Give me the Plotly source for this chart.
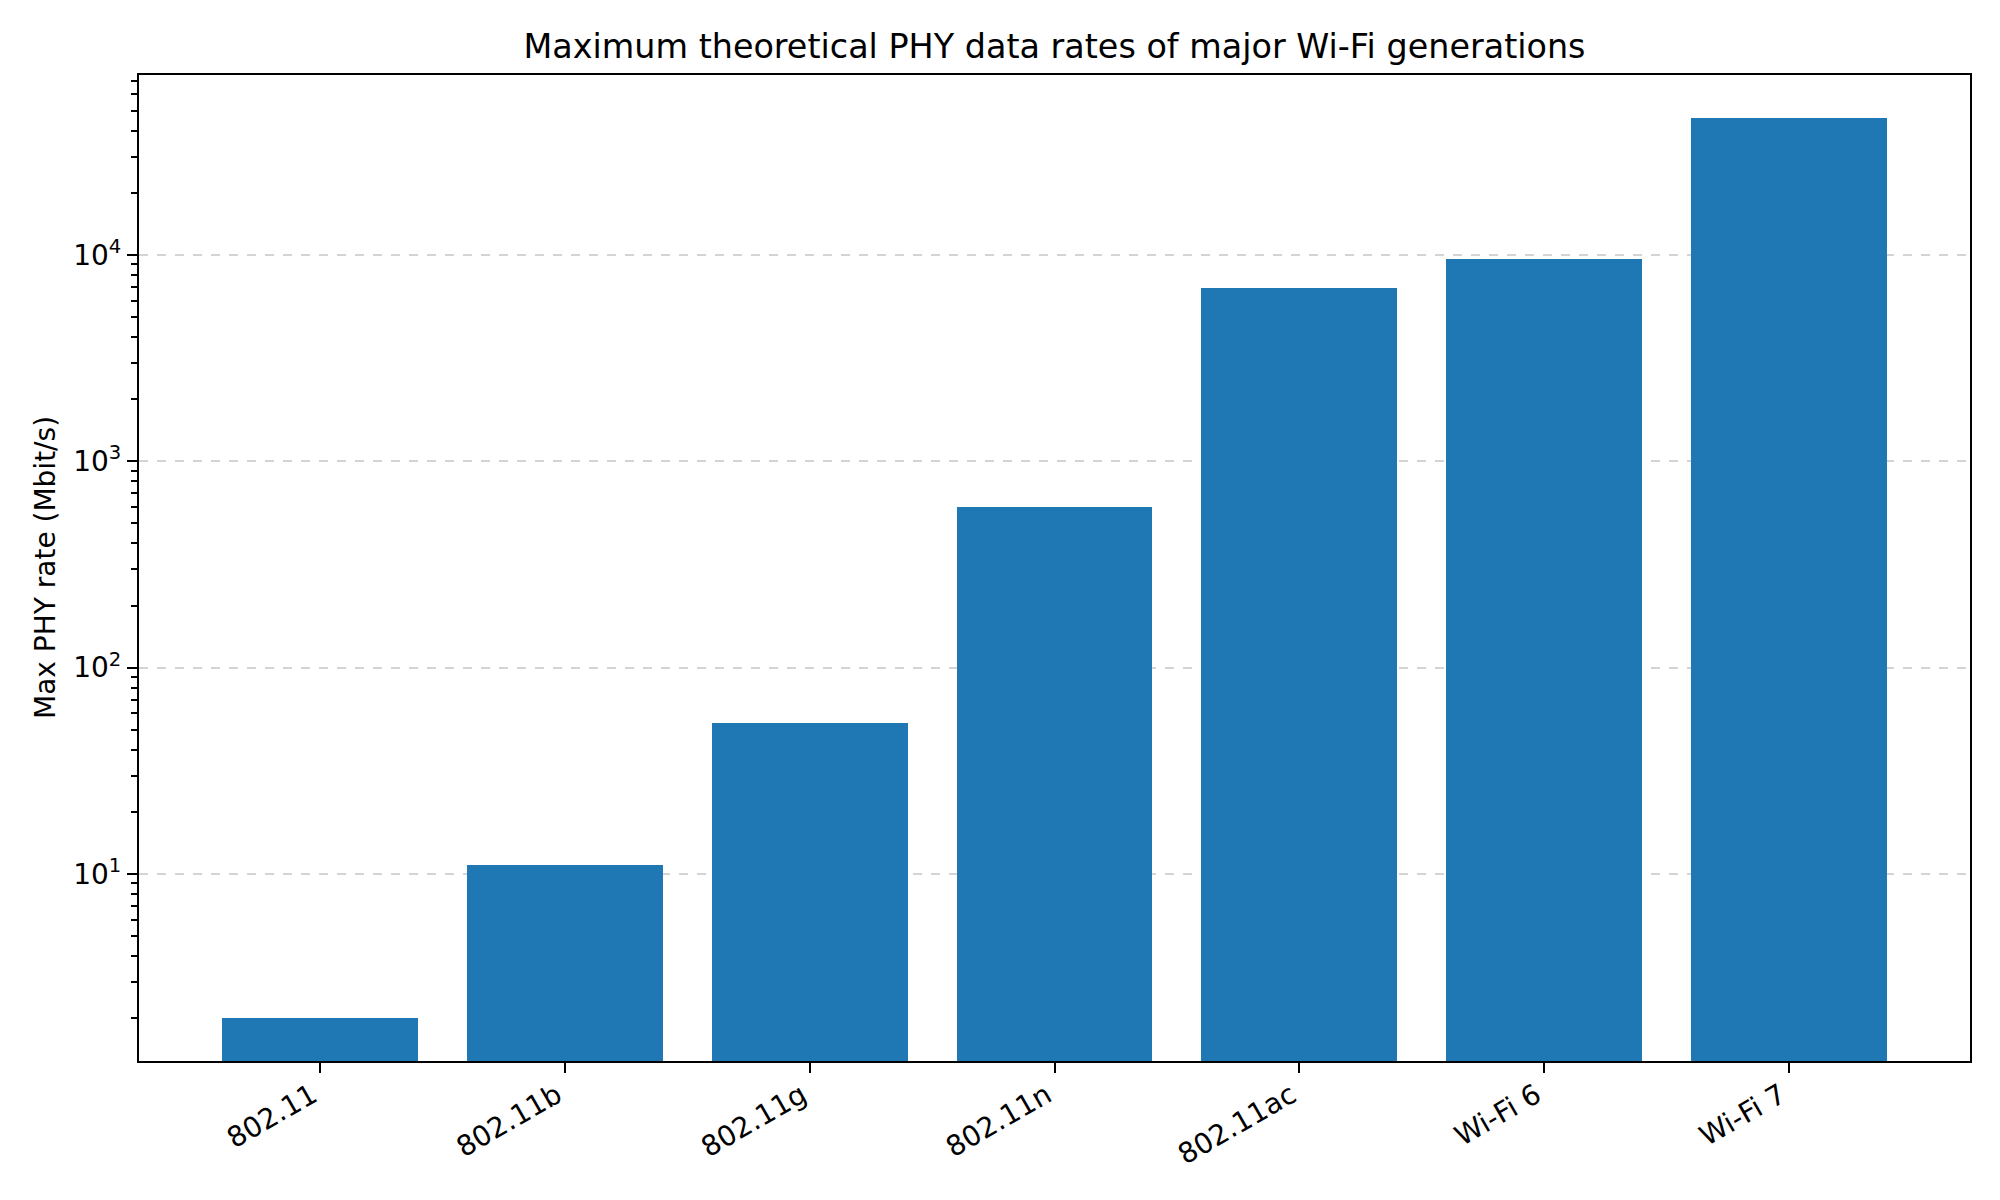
import plotly.graph_objects as go

generations = ["802.11", "802.11b", "802.11g", "802.11n", "802.11ac", "Wi-Fi 6", "Wi-Fi 7"]
max_rate_mbps = [2, 11, 54, 600, 6933, 9608, 46000]

ytick_vals = [10, 100, 1000, 10000]
ytick_text = ["10<sup>1</sup>", "10<sup>2</sup>", "10<sup>3</sup>", "10<sup>4</sup>"]

FONT = "DejaVu Sans"
OFF = 8  # browser default body margin
PLOT_L, PLOT_R = 139, 1970

fig = go.Figure(
    go.Bar(
        x=list(range(len(generations))),
        y=max_rate_mbps,
        width=0.8,
        marker=dict(color="#1f77b4", line=dict(width=0)),
    )
)

fig.update_layout(
    width=2000 - OFF,
    height=1200 - OFF,
    plot_bgcolor="white",
    paper_bgcolor="white",
    margin=dict(l=PLOT_L - OFF, r=2000 - PLOT_R, t=75 - OFF, b=139),
    font=dict(family=FONT, size=28, color="black"),
    showlegend=False,
    title=dict(
        text="Maximum theoretical PHY data rates of major Wi-Fi generations",
        x=((PLOT_L + PLOT_R) / 2 - OFF) / (2000 - OFF),
        xanchor="center",
        y=1 - (46 - OFF) / (1200 - OFF),
        yanchor="middle",
        yref="container",
        font=dict(family=FONT, size=33.4, color="black"),
    ),
    bargap=0,
    annotations=[
        dict(
            text="Max PHY rate (Mbit/s)",
            xref="paper",
            yref="paper",
            x=(45 - PLOT_L) / (PLOT_R - PLOT_L),
            y=0.5,
            xanchor="center",
            yanchor="middle",
            textangle=-90,
            showarrow=False,
            font=dict(family=FONT, size=28, color="black"),
        )
    ],
)

fig.update_xaxes(
    range=[-0.74, 6.74],
    tickvals=list(range(len(generations))),
    ticktext=generations,
    tickangle=-30,
    ticklabelshift=-8,
    ticklabelstandoff=-5,
    ticks="outside",
    ticklen=10,
    tickwidth=2.2,
    tickcolor="black",
    showline=True,
    linecolor="black",
    linewidth=2.2,
    mirror=True,
    showgrid=False,
    zeroline=False,
    tickfont=dict(family=FONT, size=28, color="black"),
)

fig.update_yaxes(
    type="log",
    range=[0.0936, 4.8725],
    tickvals=ytick_vals,
    ticktext=ytick_text,
    ticks="outside",
    ticklen=10,
    tickwidth=2.2,
    tickcolor="black",
    showline=True,
    linecolor="black",
    linewidth=2.2,
    mirror=True,
    showgrid=True,
    gridcolor="rgba(176,176,176,0.55)",
    griddash="dash",
    gridwidth=2,
    zeroline=False,
    minor=dict(ticks="outside", ticklen=5.6, tickwidth=1.8, tickcolor="black", dtick="D1", showgrid=False),
    tickfont=dict(family=FONT, size=28, color="black"),
)

fig.write_html("out.html")
